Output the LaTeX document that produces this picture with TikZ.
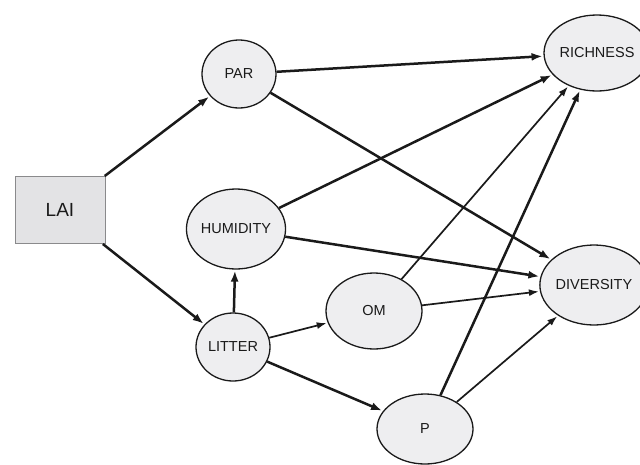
\documentclass[tikz,border=0pt]{standalone}
\usepackage{fontspec}
\setmainfont{Liberation Sans}
\usepackage{tikz}
\usetikzlibrary{shapes.geometric, arrows.meta}
\definecolor{nodebg}{HTML}{EEEEF0}
\definecolor{boxbg}{HTML}{E3E3E5}
\definecolor{boxline}{HTML}{8A8A8C}
\definecolor{ink}{HTML}{1A1A1A}
\tikzset{
    latent/.style={ellipse, draw=ink, fill=nodebg, line width=1.3pt, inner sep=0pt, font=\fontsize{14.5}{17}\selectfont, text=ink},
    source/.style={rectangle, draw=boxline, fill=boxbg, line width=1pt, minimum width=90pt, minimum height=67pt, font=\fontsize{19}{22}\selectfont, text=ink},
    strong/.style={-{Latex[length=11pt, width=8pt]}, line width=2.5pt, color=ink, shorten >=1pt},
    weak/.style={-{Latex[length=10pt, width=7pt]}, line width=1.7pt, color=ink, shorten >=1pt}
}
\begin{document}
\begin{tikzpicture}[x=1pt, y=-1pt]
    \useasboundingbox (0,0) rectangle (640,464);
    \node [source] (lai) at (60,210) {LAI};
    \node [latent, minimum width=74pt, minimum height=68pt] (par) at (239,74) {PAR};
    \node [latent, minimum width=94pt, minimum height=80pt] (hum) at (236,229) {HUMIDITY};
    \node [latent, minimum width=74pt, minimum height=68pt] (litter) at (233,347) {LITTER};
    \node [latent, minimum width=96pt, minimum height=76pt] (om) at (374,311) {OM};
    \node [latent, minimum width=96pt, minimum height=70pt] (p) at (425,429) {P};
    \node [latent, minimum width=86pt, minimum height=76pt] (rich) at (597,53) {RICHNESS};
    \node [latent, minimum width=90pt, minimum height=80pt] (div) at (594,285) {DIVERSITY};

    \draw [strong] (lai) -- (par);
    \draw [strong] (lai) -- (litter);
    \draw [strong] (par) -- (rich);
    \draw [strong] (par) -- (div);
    \draw [strong] (hum) -- (rich);
    \draw [strong] (hum) -- (div);
    \draw [strong] (litter) -- (hum);
    \draw [weak] (litter) -- (om);
    \draw [strong] (litter) -- (p);
    \draw [weak] (om) -- (rich);
    \draw [weak] (om) -- (div);
    \draw [strong] (p) -- (rich);
    \draw [weak] (p) -- (div);
\end{tikzpicture}
\end{document}
